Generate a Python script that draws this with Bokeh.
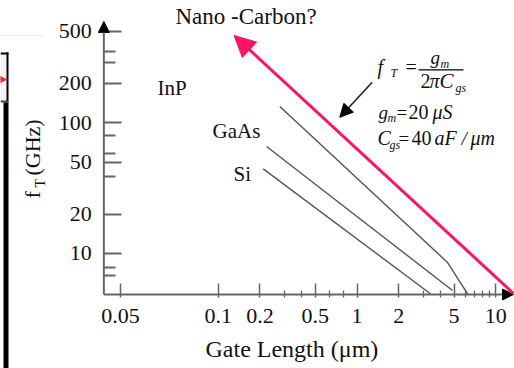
import math
from bokeh.plotting import figure
from bokeh.models import (Label, Arrow, NormalHead, FixedTicker,
                          CustomJSTickFormatter, BoxAnnotation)
from bokeh.embed import file_html
from bokeh.resources import INLINE

# ---------------- data ----------------
gate_ticks = [0.0198, 0.1, 0.2, 0.5, 1, 2, 5, 10]
gate_tick_labels = ["0.05", "0.1", "0.2", "0.5", "1", "2", "5", "10"]
gate_minor = [0.3, 0.4, 0.63, 0.8, 3, 4, 6, 7, 8, 9]
ft_ticks = [10, 20, 50, 100, 200, 500]
ft_tick_labels = ["10", "20", "50", "100", "200", "500"]
ft_minor = [6.8, 7.8, 39, 58, 80, 290, 350]

inp_L = [0.278, 4.47, 6.3]
inp_ft = [133, 8.58, 4.86]
gaas_L = [0.223, 4.88]
gaas_ft = [65.8, 5.21]
si_L = [0.211, 3.38]
si_ft = [44.4, 4.92]
nano_L = [13.4, 0.13]
nano_ft = [4.95, 464]
pointer_L = [1.287, 0.752]
pointer_ft = [204, 110]

# visible window of the log-log plane and extent of the drawn axes
X_VIEW = (0.002701, 13.637)
Y_VIEW = (1.3206, 859.4)
X_AXIS = (0.015, 13.41)
Y_AXIS = (4.86, 594)

# ---------------- layout ----------------
W, H = 514, 368
SERIF = "Liberation Serif"
PINK = "#ff1464"
AXIS = "#666666"
INK = "#111111"
SHIFT = 0.38  # baseline calibration (fraction of font size)


def sx(px):
    return px


def sy(py):
    return H - py


p = figure(width=W, height=H, x_axis_type="log", y_axis_type="log",
           x_range=X_VIEW, y_range=Y_VIEW, output_backend="svg",
           toolbar_location=None, min_border=0, title=None)
p.outline_line_color = None
p.grid.visible = False
p.background_fill_color = "white"
p.border_fill_color = "white"

fmt_code = """
let best = 0, d = 1e99;
for (let i = 0; i < t.length; i++) {
  const e = Math.abs(Math.log(t[i]) - Math.log(tick));
  if (e < d) { d = e; best = i; }
}
return l[best];
"""

xa = p.xaxis[0]
xa.fixed_location = Y_AXIS[0]
xa.bounds = X_AXIS
xa.ticker = FixedTicker(ticks=gate_ticks, minor_ticks=gate_minor)
xa.formatter = CustomJSTickFormatter(args=dict(t=gate_ticks, l=gate_tick_labels), code=fmt_code)
xa.axis_line_color = None
xa.major_tick_in = 11
xa.major_tick_out = 3
xa.minor_tick_in = 4
xa.minor_tick_out = 3
xa.major_tick_line_color = AXIS
xa.minor_tick_line_color = AXIS
xa.major_tick_line_width = 1.5
xa.minor_tick_line_width = 1.3
xa.major_label_text_font = SERIF
xa.major_label_text_font_size = "22px"
xa.major_label_text_color = INK
xa.major_label_standoff = 12

ya = p.yaxis[0]
ya.fixed_location = X_AXIS[0]
ya.bounds = Y_AXIS
ya.ticker = FixedTicker(ticks=ft_ticks, minor_ticks=ft_minor)
ya.formatter = CustomJSTickFormatter(args=dict(t=ft_ticks, l=ft_tick_labels), code=fmt_code)
ya.axis_line_color = None
ya.major_tick_in = 18
ya.major_tick_out = 0
ya.minor_tick_in = 12
ya.minor_tick_out = 0
ya.major_tick_line_color = AXIS
ya.minor_tick_line_color = AXIS
ya.major_tick_line_width = 2
ya.minor_tick_line_width = 2
ya.major_label_text_font = SERIF
ya.major_label_text_font_size = "22px"
ya.major_label_text_color = INK
ya.major_label_standoff = 12

# axis lines with arrow heads
p.add_layout(Arrow(x_start=X_AXIS[0], y_start=Y_AXIS[0], x_end=X_AXIS[1], y_end=Y_AXIS[0],
                   line_color=AXIS, line_width=2,
                   end=NormalHead(size=11, fill_color="black", line_color="black")))
p.add_layout(Arrow(x_start=X_AXIS[0], y_start=Y_AXIS[0], x_end=X_AXIS[0], y_end=Y_AXIS[1],
                   line_color=AXIS, line_width=2,
                   end=NormalHead(size=11, fill_color="black", line_color="black")))

# technology lines
for L, f in [(inp_L, inp_ft), (gaas_L, gaas_ft), (si_L, si_ft)]:
    p.line(L, f, line_color="#555555", line_width=1.4)

# nano-carbon arrow
p.add_layout(Arrow(x_start=nano_L[0], y_start=nano_ft[0], x_end=nano_L[1], y_end=nano_ft[1],
                   line_color=PINK, line_width=3,
                   end=NormalHead(size=21, fill_color=PINK, line_color=PINK)))
# pointer arrow
p.add_layout(Arrow(x_start=pointer_L[0], y_start=pointer_ft[0], x_end=pointer_L[1], y_end=pointer_ft[1],
                   line_color="#222222", line_width=1.6,
                   end=NormalHead(size=13, fill_color="black", line_color="black")))


def txt(s, px, py, size, style="normal", color=INK):
    p.add_layout(Label(x=sx(px), y=sy(py - SHIFT * size), x_units="screen", y_units="screen",
                       text=s, text_font=SERIF, text_font_size=f"{size}px",
                       text_font_style=style, text_color=color, text_align="left",
                       text_baseline="alphabetic"))


def vtxt(s, px, py, size):
    p.add_layout(Label(x=sx(px - SHIFT * size), y=sy(py), x_units="screen", y_units="screen",
                       text=s, text_font=SERIF, text_font_size=f"{size}px", text_color=INK,
                       text_align="left", text_baseline="alphabetic", angle=math.pi / 2))


def box(x0, x1, y0, y1, fill, line=None, lw=0):
    p.add_layout(BoxAnnotation(left=sx(x0), right=sx(x1), top=sy(y0), bottom=sy(y1),
                               left_units="screen", right_units="screen", top_units="screen",
                               bottom_units="screen", fill_color=fill, fill_alpha=1,
                               line_color=line, line_width=lw))


# titles / labels
txt("Nano -Carbon?", 175, 25, 23)
txt("InP", 157, 95, 21)
txt("GaAs", 212, 138, 21)
txt("Si", 233, 181, 21)
txt("Gate Length (\u03bcm)", 205, 358, 24)

# y label (rotated)
vtxt("f", 40, 198, 22)
vtxt("T", 45, 187, 14)
vtxt("(GHz)", 40, 175, 22)

# formula
txt("f", 377, 74, 20, "italic")
txt("T", 390, 77, 12, "italic")
txt("=", 405, 74, 20)
txt("g", 430, 64, 19, "italic")
txt("m", 440, 68, 12, "italic")
txt("2", 420, 88, 20)
txt("\u03c0", 429, 88, 20, "italic")
txt("C", 439, 88, 21, "italic")
txt("gs", 455, 92, 12, "italic")
box(418, 463, 68.8, 70, "black")

txt("g", 378, 119, 19, "italic")
txt("m", 387, 122, 12, "italic")
txt("=", 396, 119, 19)
txt("20", 408, 119, 20)
txt("\u03bcS", 432, 119, 20, "italic")

txt("C", 377, 145, 20, "italic")
txt("gs", 389, 149, 12, "italic")
txt("=", 398, 145, 19)
txt("40", 411, 145, 20)
txt("aF", 434, 145, 20, "italic")
txt("/", 461, 145, 19, "italic")
txt("\u03bcm", 470, 145, 20, "italic")

# fragments of neighbouring panel at left edge
box(0, 44, 34.5, 35.5, "#ececec")
box(0, 7, 53, 101, "#f4f4f4")
box(0, 8, 52, 54, "black")
box(6, 8, 52, 102, "black")
box(0, 8, 100, 102, "#444444")
box(3, 8, 102, 372, "black")
p.add_layout(Arrow(x_start=sx(-4), y_start=sy(79), x_end=sx(6), y_end=sy(79),
                   start_units="screen", end_units="screen",
                   line_color="#e8303a", line_width=1.5,
                   end=NormalHead(size=7, fill_color="#e8303a", line_color="#e8303a")))

open("out.html", "w").write(file_html(p, INLINE))
